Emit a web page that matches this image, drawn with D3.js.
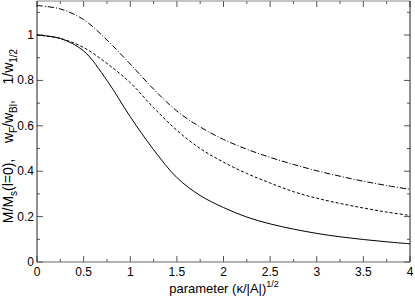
<!DOCTYPE html>
<html><head><meta charset="utf-8">
<script src="https://cdn.jsdelivr.net/npm/d3@7"></script>
<style>body{margin:0;background:#fff}svg{display:block;font-family:"Liberation Sans",Arial,sans-serif}</style>
</head><body><svg id="c" width="415" height="296"></svg>
<script>
const xs = [0,0.25,0.5,0.75,1.0,1.25,1.5,1.75,2.0,2.25,2.5,2.75,3.0,3.25,3.5,3.75,4.0];
const solidVals = [1.0,0.985,0.93,0.80,0.64,0.495,0.372,0.293,0.24,0.198,0.168,0.145,0.126,0.111,0.099,0.089,0.08];
const dashedVals = [1.0,0.985,0.945,0.875,0.79,0.68,0.58,0.50,0.44,0.39,0.348,0.31,0.281,0.258,0.238,0.22,0.205];
const dashDotVals = [1.13,1.115,1.068,0.978,0.872,0.762,0.665,0.595,0.54,0.497,0.461,0.43,0.402,0.378,0.356,0.337,0.32];
const xTicks = [0,0.5,1,1.5,2,2.5,3,3.5,4];
const xMinor = [0.25,0.75,1.25,1.75,2.25,2.75,3.25,3.75];
const yTicks = [0,0.2,0.4,0.6,0.8,1];
const yMinor = [0.1,0.3,0.5,0.7,0.9,1.1];

const L=37,R=410,T=1,B=262;
const x=d3.scaleLinear().domain([0,4]).range([L,R]);
const y=d3.scaleLinear().domain([0,1.15]).range([B,T]);
const svg=d3.select("#c");
const g=svg.append("g");
const tc="#555";
xTicks.forEach(v=>{
  g.append("line").attr("x1",x(v)).attr("x2",x(v)).attr("y1",B).attr("y2",B-6).attr("stroke",tc);
  g.append("line").attr("x1",x(v)).attr("x2",x(v)).attr("y1",T).attr("y2",T+6).attr("stroke",tc);
});
xMinor.forEach(v=>{
  g.append("line").attr("x1",x(v)).attr("x2",x(v)).attr("y1",B).attr("y2",B-3).attr("stroke",tc);
  g.append("line").attr("x1",x(v)).attr("x2",x(v)).attr("y1",T).attr("y2",T+3).attr("stroke",tc);
});
yTicks.forEach(v=>{
  g.append("line").attr("x1",L).attr("x2",L+6).attr("y1",y(v)).attr("y2",y(v)).attr("stroke",tc);
  g.append("line").attr("x1",R).attr("x2",R-6).attr("y1",y(v)).attr("y2",y(v)).attr("stroke",tc);
});
yMinor.forEach(v=>{
  g.append("line").attr("x1",L).attr("x2",L+3).attr("y1",y(v)).attr("y2",y(v)).attr("stroke",tc);
  g.append("line").attr("x1",R).attr("x2",R-3).attr("y1",y(v)).attr("y2",y(v)).attr("stroke",tc);
});
g.append("line").attr("x1",L).attr("x2",R).attr("y1",T).attr("y2",T).attr("stroke","#888");
g.append("line").attr("x1",L).attr("x2",R).attr("y1",B).attr("y2",B).attr("stroke","#666");
g.append("line").attr("x1",L).attr("x2",L).attr("y1",T).attr("y2",B).attr("stroke","#222");
g.append("line").attr("x1",R).attr("x2",R).attr("y1",T).attr("y2",B).attr("stroke","#222");

xTicks.forEach(v=>{
  g.append("text").attr("x",x(v)).attr("y",B+14).attr("text-anchor","middle").attr("font-size",12).text(d3.format("")(v));
});
yTicks.forEach(v=>{
  g.append("text").attr("x",L-3).attr("y",y(v)+4).attr("text-anchor","end").attr("font-size",12).text(d3.format("")(v));
});

const line=d3.line().x((d,i)=>x(xs[i])).y(d=>y(d)).curve(d3.curveCatmullRom.alpha(0.5));
const cg=svg.append("g").attr("fill","none").attr("stroke","#000");
cg.append("path").attr("d",line(solidVals)).attr("stroke-width",1);
cg.append("path").attr("d",line(dashedVals)).attr("stroke-width",1).attr("stroke-dasharray","3,2");
cg.append("path").attr("d",line(dashDotVals)).attr("stroke-width",1).attr("stroke-dasharray","6,2,1,2");

const xl=svg.append("text").attr("x",224).attr("y",293).attr("text-anchor","middle").attr("font-size",13);
xl.append("tspan").text("parameter (κ/|A|)");
xl.append("tspan").attr("dy",-6).attr("font-size",9).text("1/2");

const yl=svg.append("text").attr("transform","translate(13,136) rotate(-90)").attr("text-anchor","middle").attr("font-size",14).style("white-space","pre");
yl.append("tspan").text("M/M");
yl.append("tspan").attr("dy",4).attr("font-size",10).text("s");
yl.append("tspan").attr("dy",-4).text("(l=0),    w");
yl.append("tspan").attr("dy",4).attr("font-size",10).text("F");
yl.append("tspan").attr("dy",-4).text("/w");
yl.append("tspan").attr("dy",4).attr("font-size",10).text("Bl");
yl.append("tspan").attr("dy",-4).text(",    1/w");
yl.append("tspan").attr("dy",4).attr("font-size",10).text("1/2");
</script></body></html>
